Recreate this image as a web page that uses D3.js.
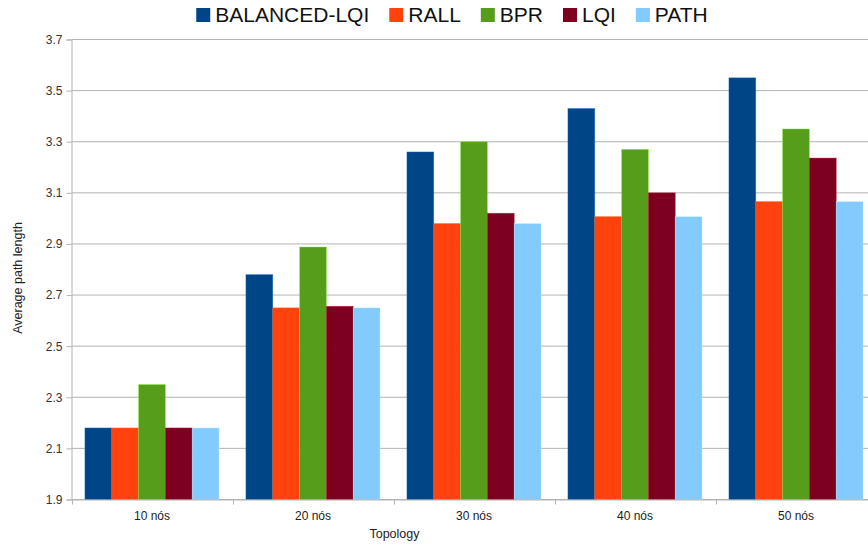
<!DOCTYPE html>
<html>
<head>
<meta charset="utf-8">
<script src="https://cdn.jsdelivr.net/npm/d3@7"></script>
<style>
  html, body { margin: 0; padding: 0; background: #fff; overflow: hidden; }
  svg { display: block; font-family: "Liberation Sans", Arial, sans-serif; }
</style>
</head>
<body>
<svg id="chart" width="868" height="549"></svg>
<script>
const categories = ["10 nós", "20 nós", "30 nós", "40 nós", "50 nós"];
const seriesNames = ["BALANCED-LQI", "RALL", "BPR", "LQI", "PATH"];
const seriesColors = ["#004586", "#ff420e", "#579d1c", "#7e0021", "#83caff"];
const balancedLqi = [2.18, 2.78, 3.26, 3.43, 3.55];
const rall = [2.18, 2.65, 2.98, 3.007, 3.066];
const bpr = [2.35, 2.888, 3.30, 3.27, 3.35];
const lqi = [2.18, 2.656, 3.02, 3.10, 3.236];
const path = [2.18, 2.65, 2.98, 3.007, 3.066];
const yTicks = [1.9, 2.1, 2.3, 2.5, 2.7, 2.9, 3.1, 3.3, 3.5, 3.7];

const seriesValues = [balancedLqi, rall, bpr, lqi, path];

const svg = d3.select("#chart");
const plotLeft = 71.5, plotRight = 876.5, plotTop = 39.5, plotBottom = 499.5;
const gridColor = "#b3b3b3";

const x0 = d3.scaleBand().domain(categories).range([plotLeft, plotRight]).paddingInner(0).paddingOuter(0);
const x1 = d3.scaleBand().domain(seriesNames).range([0, x0.bandwidth()]).paddingInner(0).paddingOuter(0.5);
const y = d3.scaleLinear().domain([1.9, 3.7]).range([plotBottom, plotTop]);

// gridlines
svg.append("g").selectAll("line").data(yTicks).join("line")
  .attr("x1", plotLeft).attr("x2", plotRight)
  .attr("y1", d => y(d)).attr("y2", d => y(d))
  .attr("stroke", gridColor).attr("stroke-width", 1);

// bars
const data = [];
categories.forEach((c, ci) => {
  seriesNames.forEach((s, si) => {
    data.push({ c, s, v: seriesValues[si][ci], color: seriesColors[si] });
  });
});
svg.append("g").selectAll("rect").data(data).join("rect")
  .attr("x", d => x0(d.c) + x1(d.s))
  .attr("y", d => y(d.v))
  .attr("width", x1.bandwidth())
  .attr("height", d => y(1.9) - y(d.v))
  .attr("fill", d => d.color)
  .attr("stroke", d => d3.color(d.color).brighter(1.3))
  .attr("stroke-opacity", 0.45)
  .attr("stroke-width", 0.8);

// y axis
const yAxis = d3.axisLeft(y).tickValues(yTicks).tickFormat(d3.format(".1f")).tickSize(5).tickPadding(4);
const gy = svg.append("g").attr("transform", `translate(${plotLeft},0)`).call(yAxis);
gy.select(".domain").attr("stroke", gridColor);
gy.selectAll(".tick line").attr("stroke", gridColor);
gy.selectAll(".tick text").attr("fill", "#333").style("font-size", "12px")
  .style("font-family", "'Liberation Sans', Arial, sans-serif");

// x axis
const xAxis = d3.axisBottom(x0).tickSize(0).tickPadding(12);
const gx = svg.append("g").attr("transform", `translate(0,${plotBottom})`).call(xAxis);
gx.select(".domain").attr("stroke", gridColor);
gx.selectAll(".tick text").attr("fill", "#222").style("font-size", "12px")
  .style("font-family", "'Liberation Sans', Arial, sans-serif");
// category boundary ticks
svg.append("g").selectAll("line").data(categories).join("line")
  .attr("x1", d => Math.round(x0(d)) + 0.5).attr("x2", d => Math.round(x0(d)) + 0.5)
  .attr("y1", plotBottom).attr("y2", plotBottom + 5)
  .attr("stroke", gridColor);

// axis titles
svg.append("text").attr("x", 394.5).attr("y", 538)
  .attr("text-anchor", "middle").attr("fill", "#222")
  .style("font-size", "12.5px").text("Topology");
svg.append("text").attr("transform", "translate(22,278) rotate(-90)")
  .attr("text-anchor", "middle").attr("fill", "#222")
  .style("font-size", "12.5px").text("Average path length");

// legend
const lg = svg.append("g");
let lx = 0;
seriesNames.forEach((s, i) => {
  const g = lg.append("g");
  g.append("rect").attr("x", lx).attr("y", 8).attr("width", 14).attr("height", 14).attr("fill", seriesColors[i]);
  const t = g.append("text").attr("x", lx + 19).attr("y", 22).attr("fill", "#111")
    .style("font-size", "21px").text(s);
  const w = t.node().getComputedTextLength();
  lx += 19 + w + 20;
});
const totalW = lx - 20;
lg.attr("transform", `translate(${452 - totalW / 2},0)`);
</script>
</body>
</html>
